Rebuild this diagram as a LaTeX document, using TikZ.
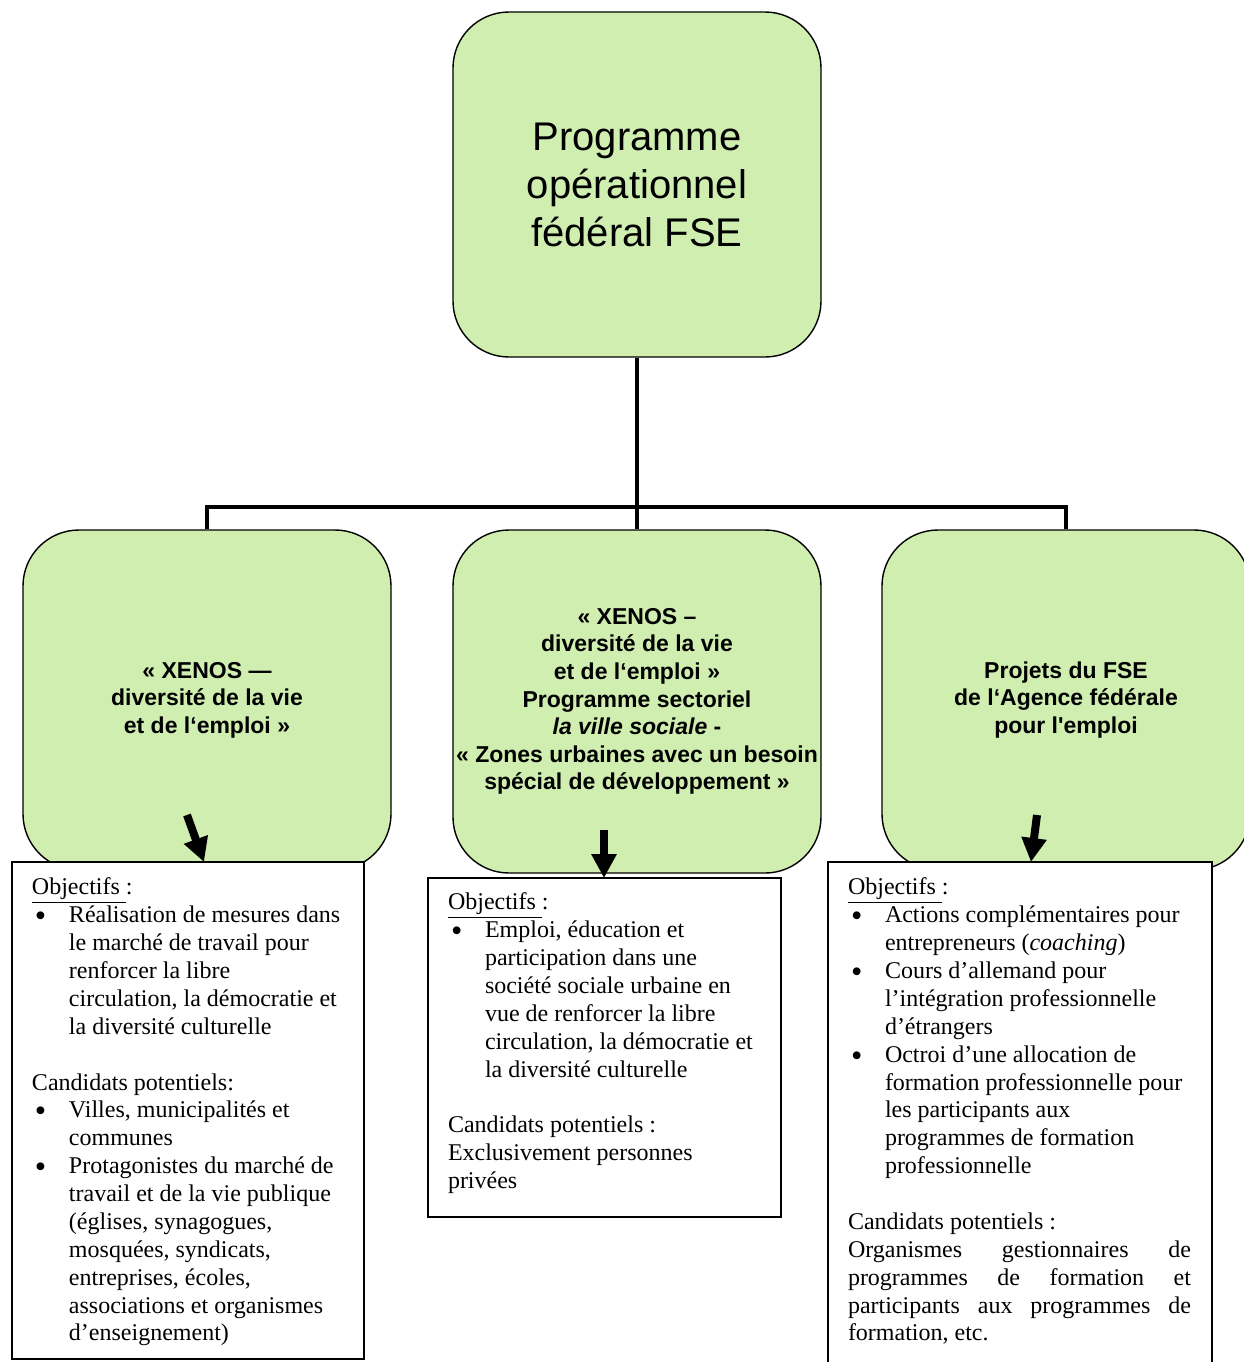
\documentclass[tikz,border=0pt]{standalone}
\usepackage{fontspec}
\usepackage{graphicx}
\setmainfont{Liberation Serif}
\setsansfont{Liberation Sans}
\usetikzlibrary{arrows.meta,positioning}
\definecolor{vertpale}{RGB}{207,238,175}

% puce avec retrait suspendu
\newcommand{\puce}[1]{\par\hangindent=18.5pt\hangafter=1\noindent
  \makebox[18.5pt][l]{\hspace{1.5pt}\raisebox{-2pt}{\scalebox{1.35}{\textbullet}}}#1\par}

\begin{document}
\begin{tikzpicture}[x=0.5pt,y=-0.5pt,
    bulle/.style={draw, fill=vertpale, rounded corners=28pt, line width=0.7pt,
      minimum width=184pt, inner sep=1pt, align=center,
      font=\sffamily\bfseries\fontsize{11.5}{13.8}\selectfont},
    cadre/.style={draw, fill=white, line width=1pt, inner sep=0pt},
    texte/.style={inner sep=0pt, outer sep=0pt, align=justify,
      font=\rmfamily\fontsize{12}{13.94}\selectfont},
    lien/.style={line width=1.8pt},
    fleche/.style={line width=4pt, -{Triangle[length=12pt,width=12pt]}}]

    \useasboundingbox (0,0) rectangle (1244,1362);

    \node[bulle, minimum height=172.5pt,
      font=\sffamily\fontsize{20}{24}\selectfont] (prog) at (637,184.5) {
        Programme\\opérationnel\\fédéral FSE
    };
    \node[bulle, minimum height=170pt] (xenos) at (207,700) {
        « XENOS —\\diversité de la vie\\et de l‘emploi »
    };
    \node[bulle, minimum height=171.5pt] (ville) at (637,701.5) {
        « XENOS –\\diversité de la vie\\et de l‘emploi »\\Programme sectoriel\\
        \textit{la ville sociale} -\\« Zones urbaines avec un besoin\\
        spécial de développement »
    };
    \node[bulle, minimum height=170pt] (agence) at (1066,700) {
        Projets du FSE\\de l‘Agence fédérale\\pour l\textquotesingle emploi
    };

    \coordinate (bus) at (637,507);
    \draw[lien] (prog.south) -- (ville.north);
    \draw[lien] (xenos.north) |- (bus) -| (agence.north);

    \node[cadre, minimum width=176pt, minimum height=248.5pt] (objA) at (188,1110.5) {};
    \node[cadre, minimum width=176.5pt, minimum height=169.5pt] (objB) at (604.5,1047.5) {};
    \node[cadre, minimum width=192pt, minimum height=259pt] (objC) at (1020,1121) {};

    \node[texte, text width=168pt, below right=8.5pt and 10.5pt of objA.north west] (txtA) {
        \noindent\underline{Objectifs\ }:
        \puce{Réalisation de mesures dans\newline le marché de travail pour\newline
          renforcer la libre\newline circulation, la démocratie et\newline
          la diversité culturelle}
        \vspace{13.94pt}
        \noindent Candidats potentiels:
        \puce{Villes, municipalités et\newline communes}
        \puce{Protagonistes du marché de\newline travail et de la vie publique\newline
          (églises, synagogues,\newline mosquées, syndicats,\newline
          entreprises, écoles,\newline associations et organismes\newline
          d’enseignement)}
    };
    \node[texte, text width=165pt, below right=8pt and 10.5pt of objB.north west] (txtB) {
        \noindent\underline{Objectifs\ }:
        \puce{Emploi, éducation et\newline participation dans une\newline
          société sociale urbaine en\newline vue de renforcer la libre\newline
          circulation, la démocratie et\newline la diversité culturelle}
        \vspace{13.94pt}
        \noindent Candidats potentiels :\newline Exclusivement personnes\newline privées
    };
    \node[texte, text width=171.5pt, below right=8.5pt and 10.5pt of objC.north west] (txtC) {
        \noindent\underline{Objectifs\ }:
        \puce{Actions complémentaires pour\newline entrepreneurs (\textit{coaching})}
        \puce{Cours d’allemand pour\newline l’intégration professionnelle\newline
          d’étrangers}
        \puce{Octroi d’une allocation de\newline formation professionnelle pour\newline
          les participants aux\newline programmes de formation\newline
          professionnelle}
        \vspace{13.94pt}
        \noindent Candidats potentiels :\par
        \noindent Organismes gestionnaires de\linebreak programmes de formation et\linebreak
        participants aux programmes de\linebreak formation, etc.
    };

    \coordinate (queueA) at (187,815);
    \coordinate (pointeA) at (204,862);
    \coordinate (queueB) at (604,830);
    \coordinate (pointeB) at (604,878);
    \coordinate (queueC) at (1037,815);
    \coordinate (pointeC) at (1031,862);
    \draw[fleche] (queueA) -- (pointeA);
    \draw[fleche] (queueB) -- (pointeB);
    \draw[fleche] (queueC) -- (pointeC);
\end{tikzpicture}
\end{document}
